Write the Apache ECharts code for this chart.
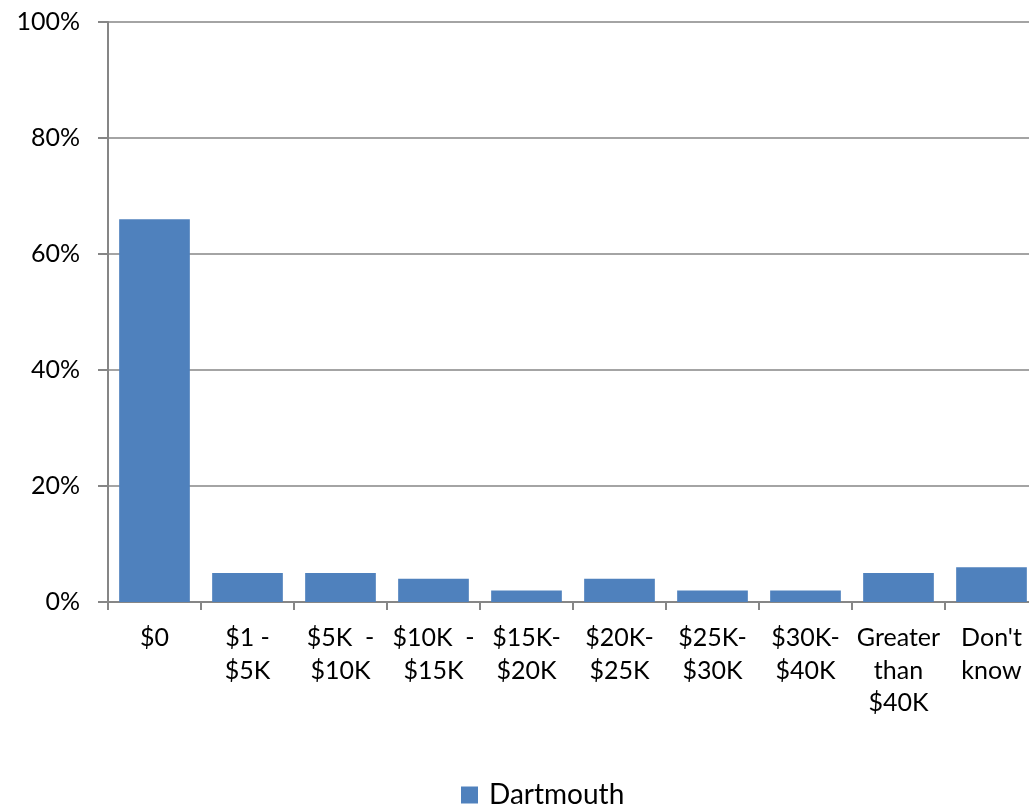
<!DOCTYPE html>
<html>
<head>
<meta charset="utf-8">
<script src="https://cdn.jsdelivr.net/npm/echarts@6/dist/echarts.min.js"></script>
<style>
  html, body { margin: 0; padding: 0; background: #fff; overflow: hidden; }
  #chart { width: 1029px; height: 808px; }
</style>
</head>
<body>
<div id="chart"></div>
<script>
  // 类别与数值
  var categories = ['$0', '$1 -\n$5K', '$5K  -\n$10K', '$10K  -\n$15K', '$15K-\n$20K',
                    '$20K-\n$25K', '$25K-\n$30K', '$30K-\n$40K', 'Greater\nthan\n$40K', "Don't\nknow"];
  var dartmouth = [66, 5, 5, 4, 2, 4, 2, 2, 5, 6];
  var yTicks = [0, 20, 40, 60, 80, 100];

  var chart = echarts.init(document.getElementById('chart'));
  var font = 'Lato, "Open Sans", sans-serif';
  var option = {
    animation: false,
    textStyle: { fontFamily: font },
    legend: {
      top: 781,
      left: 461,
      padding: 0,
      itemWidth: 17,
      itemHeight: 17,
      itemGap: 10,
      icon: 'rect',
      textStyle: { fontSize: 28, color: '#000', fontFamily: font, padding: [0, 0, 0, 6] },
      data: ['Dartmouth']
    },
    // 右侧超出画布，关闭外边界约束
    grid: { left: 108, width: 930, top: 22, height: 580, containLabel: false, outerBoundsMode: 'none' },
    xAxis: {
      type: 'category',
      data: categories,
      axisLine: { lineStyle: { color: '#868686', width: 2 } },
      axisTick: { show: true, length: 8, lineStyle: { color: '#868686', width: 2 } },
      axisLabel: { fontSize: 25, color: '#000', lineHeight: 32.5, margin: 20, interval: 0, fontFamily: font }
    },
    yAxis: {
      type: 'value',
      min: yTicks[0],
      max: yTicks[yTicks.length - 1],
      interval: 20,
      axisLine: { show: true, lineStyle: { color: '#868686', width: 2 } },
      axisTick: { show: true, inside: false, length: 10, lineStyle: { color: '#868686', width: 2 } },
      splitLine: { lineStyle: { color: '#868686', width: 1.5 } },
      axisLabel: { fontSize: 25, color: '#000', margin: 28, formatter: '{value}%', fontFamily: font }
    },
    series: [{
      name: 'Dartmouth',
      type: 'bar',
      data: dartmouth,
      barCategoryGap: '24%',
      itemStyle: { color: '#4F81BD' }
    }]
  };
  chart.setOption(option);
</script>
</body>
</html>
